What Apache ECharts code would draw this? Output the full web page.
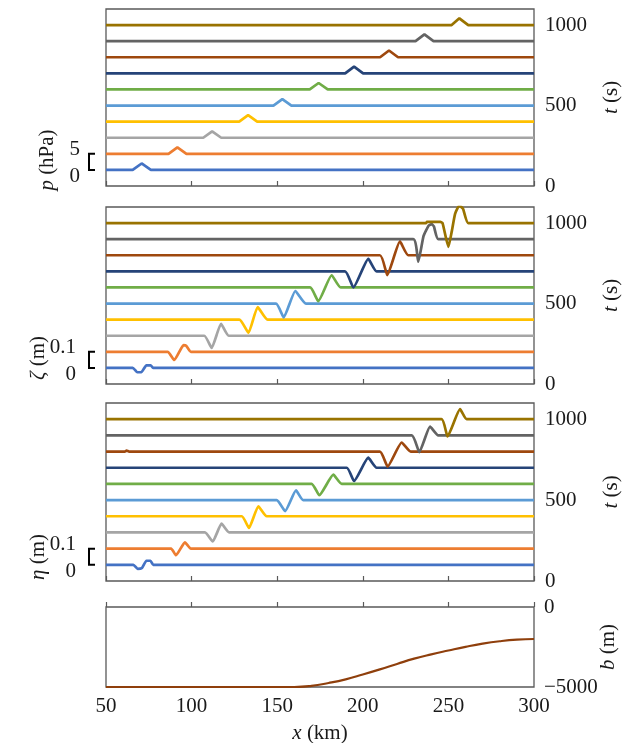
<!DOCTYPE html>
<html>
<head>
<meta charset="utf-8">
<script src="https://cdn.jsdelivr.net/npm/echarts@6/dist/echarts.min.js"></script>
<style>
  html, body { margin: 0; padding: 0; background: #fff; }
  #chart { width: 627px; height: 743px; }
</style>
</head>
<body>
<div id="chart"></div>
<script>
// time of each trace (s), bottom to top
const times = [100, 200, 300, 400, 500, 600, 700, 800, 900, 1000]
const lineColors = ['#4472c4', '#ed7d31', '#a5a5a5', '#ffc000', '#5b9bd5',
                    '#70ad47', '#264478', '#9e480e', '#636363', '#997300']

// pressure p (hPa) : vertices along x (km)
const pX = [
  [50, 65.6, 70.8, 76.2, 300],
  [50, 86.5, 91.7, 97.0, 300],
  [50, 106.8, 112.0, 117.3, 300],
  [50, 127.8, 133.0, 138.3, 300],
  [50, 147.8, 153.0, 158.3, 300],
  [50, 169.0, 174.2, 179.5, 300],
  [50, 189.7, 194.9, 200.2, 300],
  [50, 210.1, 215.3, 220.6, 300],
  [50, 230.8, 236.0, 241.3, 300],
  [50, 251.9, 256.4, 261.6, 300]
]
const pV = [
  [0, 0, 2, 0, 0], [0, 0, 2, 0, 0], [0, 0, 2, 0, 0], [0, 0, 2, 0, 0], [0, 0, 2, 0, 0],
  [0, 0, 2, 0, 0], [0, 0, 2.1, 0, 0], [0, 0, 2.1, 0, 0], [0, 0, 2.1, 0, 0], [0, 0, 2.1, 0, 0]
]

// free surface zeta (m)
const zX = [
  [50, 65.6, 68.3, 70.6, 73.6, 76.1, 77.5, 300],
  [50, 86.0, 89.9, 95.3, 96.8, 99.6, 300],
  [50, 107.4, 111.7, 117.2, 121.7, 300],
  [50, 127.9, 133.2, 138.6, 144.4, 300],
  [50, 149.3, 153.8, 160.6, 166.8, 300],
  [50, 169.2, 174.0, 181.8, 187.1, 300],
  [50, 189.6, 194.5, 203.2, 208.1, 300],
  [50, 210.0, 214.3, 221.7, 226.6, 300],
  [50, 229.5, 232.4, 235.5, 238.5, 240.2, 241.5, 244.1, 300],
  [50, 237.0, 237.5, 245.3, 246.6, 250.0, 252.0, 253.9, 256.4, 258.5, 261.6, 300]
]
const zV = [
  [0, 0, -0.027, -0.027, 0.016, 0.016, 0, 0],
  [0, 0, -0.051, 0.041, 0.038, 0, 0],
  [0, 0, -0.076, 0.074, 0, 0],
  [0, 0, -0.082, 0.078, 0, 0],
  [0, 0, -0.086, 0.078, 0, 0],
  [0, 0, -0.085, 0.076, 0, 0],
  [0, 0, -0.100, 0.078, 0, 0],
  [0, 0, -0.123, 0.086, 0, 0],
  [0, 0, -0.140, 0.020, 0.085, 0.093, 0.080, 0, 0],
  [0, 0, 0.008, 0.008, 0, -0.148, -0.050, 0.058, 0.109, 0.090, 0, 0]
]

// sea surface eta (m)
const eX = [
  [50, 66.0, 68.5, 71.0, 73.6, 76.0, 77.6, 300],
  [50, 88.0, 90.9, 96.1, 99.6, 300],
  [50, 107.8, 112.3, 117.5, 121.9, 300],
  [50, 129.3, 133.5, 139.0, 143.9, 300],
  [50, 149.7, 154.6, 161.0, 165.2, 300],
  [50, 170.1, 174.6, 182.8, 187.7, 300],
  [50, 190.6, 194.9, 203.2, 208.1, 300],
  [50, 61.0, 62.0, 63.5, 210.0, 214.5, 222.7, 228.0, 300],
  [50, 228.6, 233.0, 239.3, 244.1, 300],
  [50, 246.0, 249.5, 256.8, 260.7, 300]
]
const eV = [
  [0, 0, -0.025, -0.020, 0.025, 0.025, 0, 0],
  [0, 0, -0.041, 0.039, 0, 0],
  [0, 0, -0.056, 0.054, 0, 0],
  [0, 0, -0.072, 0.062, 0, 0],
  [0, 0, -0.068, 0.060, 0, 0],
  [0, 0, -0.070, 0.057, 0, 0],
  [0, 0, -0.082, 0.062, 0, 0],
  [0, 0, 0.006, 0, 0, -0.093, 0.056, 0, 0],
  [0, 0, -0.103, 0.054, 0, 0],
  [0, 0, -0.107, 0.062, 0, 0]
]

// bathymetry b (m)
const bX = [50, 100, 150, 160, 170, 180, 190, 200, 210, 220, 230, 240, 250, 260, 270, 280, 290, 300]
const bV = [-5000, -5000, -5000, -5000, -4930, -4750, -4520, -4220, -3900, -3560, -3230, -2960, -2720, -2490, -2290, -2140, -2040, -2000]

// scale bars: 5 hPa / 0.1 m spans 100 s of offset
const scaleBarT = [100, 200]
const pScale = 20      // s per hPa
const zScale = 1000    // s per m
const tTicks = [0, 500, 1000]
const bTicks = [-5000, 0]

const FONT = '"Liberation Serif", "Times New Roman", serif'
const FS = 21
const INK = '#1a1a1a'
const BOX = '#595959'

const grids = [
  { left: 106, right: 93, top: 9, height: 177 },
  { left: 106, right: 93, top: 207, height: 177 },
  { left: 106, right: 93, top: 403, height: 178 },
  { left: 106, right: 93, top: 607, height: 80 }
].map(g => ({
  ...g,
  show: true,
  containLabel: false,
  outerBoundsMode: 'none',
  borderColor: BOX,
  borderWidth: 1.3,
  backgroundColor: 'transparent'
}))

const richName = { i: { fontStyle: 'italic', fontFamily: FONT, fontSize: FS, color: INK } }

const xAxes = grids.map((g, i) => ({
  gridIndex: i,
  type: 'value',
  min: 50,
  max: 300,
  interval: 50,
  axisLine: { show: false },
  axisTick: { show: true, inside: true, length: 5, lineStyle: { color: BOX, width: 1.2 } },
  axisLabel: { show: i === 3, fontFamily: FONT, fontSize: FS, color: INK, margin: 9 },
  splitLine: { show: false },
  name: i === 3 ? '{i|x} (km)' : '',
  nameLocation: 'middle',
  nameGap: 36,
  nameTextStyle: { fontFamily: FONT, fontSize: FS, color: INK, rich: richName }
}))

const yAxes = grids.map((g, i) => i < 3 ? ({
  gridIndex: i,
  type: 'value',
  position: 'right',
  min: 0,
  max: 1100,
  interval: 500,
  axisLine: { show: false },
  axisTick: { show: false },
  splitLine: { show: false },
  axisLabel: {
    fontFamily: FONT, fontSize: FS, color: INK, margin: 11,
    formatter: v => tTicks.includes(v) ? String(v) : ''
  },
  name: '{i|t} (s)',
  nameLocation: 'middle',
  nameRotate: 90,
  nameGap: 67,
  nameTextStyle: { fontFamily: FONT, fontSize: FS, color: INK, rich: richName }
}) : ({
  gridIndex: i,
  type: 'value',
  position: 'right',
  min: -5000,
  max: 0,
  interval: 5000,
  axisLine: { show: false },
  axisTick: { show: false },
  splitLine: { show: false },
  axisLabel: {
    fontFamily: FONT, fontSize: FS, color: INK, margin: 10,
    formatter: v => bTicks.includes(v) ? (v < 0 ? '\u2212' + Math.abs(v) : String(v)) : ''
  },
  name: '{i|b} (m)',
  nameLocation: 'middle',
  nameRotate: 90,
  nameGap: 64,
  nameMoveOverlap: false,
  nameTextStyle: { fontFamily: FONT, fontSize: FS, color: INK, rich: richName }
}))

function traceSeries(panel, xs, vs, scale, smooth) {
  return times.map((t, k) => ({
    type: 'line',
    xAxisIndex: panel,
    yAxisIndex: panel,
    showSymbol: false,
    smooth: smooth,
    animation: false,
    lineStyle: { color: lineColors[k], width: 2.7 },
    data: xs[k].map((x, j) => [x, t + scale * vs[k][j]])
  }))
}

function scaleBar(panel, topLabel, botLabel, labelRight) {
  return {
    type: 'custom',
    xAxisIndex: panel,
    yAxisIndex: panel,
    clip: false,
    silent: true,
    animation: false,
    data: [[50, scaleBarT[0], scaleBarT[1]]],
    renderItem: (params, api) => {
      const lo = api.coord([api.value(0), api.value(1)])
      const hi = api.coord([api.value(0), api.value(2)])
      const xv = lo[0] - 17
      const xa = lo[0] - 11
      const font = FS + 'px ' + FONT
      return {
        type: 'group',
        children: [
          { type: 'polyline', shape: { points: [[xa, hi[1]], [xv, hi[1]], [xv, lo[1]], [xa, lo[1]]] },
            style: { stroke: '#000', lineWidth: 2, fill: null } },
          { type: 'text', style: { text: topLabel, x: lo[0] - labelRight, y: hi[1] - 4,
            align: 'right', verticalAlign: 'middle', font: font, fill: INK } },
          { type: 'text', style: { text: botLabel, x: lo[0] - labelRight, y: lo[1] + 7,
            align: 'right', verticalAlign: 'middle', font: font, fill: INK } }
        ]
      }
    }
  }
}

function leftTitle(sym, x, y) {
  return {
    type: 'text',
    x: x,
    y: y,
    rotation: Math.PI / 2,
    style: {
      text: '{i|' + sym + '} (' + (sym === 'p' ? 'hPa' : 'm') + ')',
      align: 'center',
      verticalAlign: 'middle',
      font: FS + 'px ' + FONT,
      fill: INK,
      rich: richName
    }
  }
}

const series = [
  ...traceSeries(0, pX, pV, pScale, false),
  ...traceSeries(1, zX, zV, zScale, 0.15),
  ...traceSeries(2, eX, eV, zScale, 0.15),
  {
    type: 'line',
    xAxisIndex: 3,
    yAxisIndex: 3,
    showSymbol: false,
    smooth: true,
    animation: false,
    lineStyle: { color: '#8f3f0c', width: 2.2 },
    data: bX.map((x, j) => [x, bV[j]])
  },
  scaleBar(0, '5', '0', 26),
  scaleBar(1, '0.1', '0', 30),
  scaleBar(2, '0.1', '0', 30)
]

const chart = echarts.init(document.getElementById('chart'), null, { renderer: 'canvas' })
chart.setOption({
  animation: false,
  backgroundColor: '#fff',
  grid: grids,
  xAxis: xAxes,
  yAxis: yAxes,
  series: series,
  graphic: [
    leftTitle('p', 47, 160),
    leftTitle('\u03b6', 38, 358),
    leftTitle('\u03b7', 38, 557)
  ]
})
</script>
</body>
</html>
